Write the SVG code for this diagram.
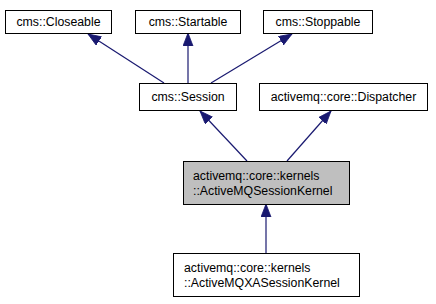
<svg xmlns="http://www.w3.org/2000/svg" width="436" height="304" viewBox="0 0 436 304">
  <style>
    .box { fill: #ffffff; stroke: #000000; stroke-width: 1; }
    .cur { fill: #bfbfbf; stroke: #000000; stroke-width: 1; }
    text { font-family: "Liberation Sans", Arial, sans-serif; font-size: 12.3px; fill: #000000; }
    .edge { stroke: #191970; stroke-width: 1.2; fill: none; marker-end: url(#arr); }
  </style>
  <defs>
    <marker id="arr" markerUnits="userSpaceOnUse" markerWidth="14" markerHeight="12" refX="13" refY="5" orient="auto">
      <path d="M0,0 L13,5 L0,10 z" fill="#191970" stroke="#191970" stroke-width="0.8"/>
    </marker>
  </defs>
  <rect width="436" height="304" fill="#ffffff"/>

  <g id="edges">
    <path class="edge" d="M164,83 L88,34"/>
    <path class="edge" d="M188,83 L188,33"/>
    <path class="edge" d="M211,83 L292,34"/>
    <path class="edge" d="M247,161 L200,111"/>
    <path class="edge" d="M287,161 L331,111"/>
    <path class="edge" d="M266,253 L266,204"/>
  </g>

  <g id="closeable">
    <rect class="box" x="5.5" y="10.5" width="106" height="23"/>
    <text x="58.5" y="26" text-anchor="middle">cms::Closeable</text>
  </g>
  <g id="startable">
    <rect class="box" x="135.5" y="10.5" width="105" height="23"/>
    <text x="188" y="26" text-anchor="middle">cms::Startable</text>
  </g>
  <g id="stoppable">
    <rect class="box" x="263.5" y="10.5" width="109" height="23"/>
    <text x="318" y="26" text-anchor="middle">cms::Stoppable</text>
  </g>
  <g id="session">
    <rect class="box" x="139.5" y="83.5" width="97" height="27"/>
    <text x="188" y="101" text-anchor="middle">cms::Session</text>
  </g>
  <g id="dispatcher">
    <rect class="box" x="259.5" y="83.5" width="168" height="27"/>
    <text x="343.5" y="101" text-anchor="middle">activemq::core::Dispatcher</text>
  </g>
  <g id="sessionkernel">
    <rect class="cur" x="183.5" y="161.5" width="166" height="43"/>
    <text x="193" y="180">activemq::core::kernels</text>
    <text x="193" y="195">::ActiveMQSessionKernel</text>
  </g>
  <g id="xasessionkernel">
    <rect class="box" x="173.5" y="253.5" width="186" height="43"/>
    <text x="184" y="272">activemq::core::kernels</text>
    <text x="184" y="287">::ActiveMQXASessionKernel</text>
  </g>
</svg>
